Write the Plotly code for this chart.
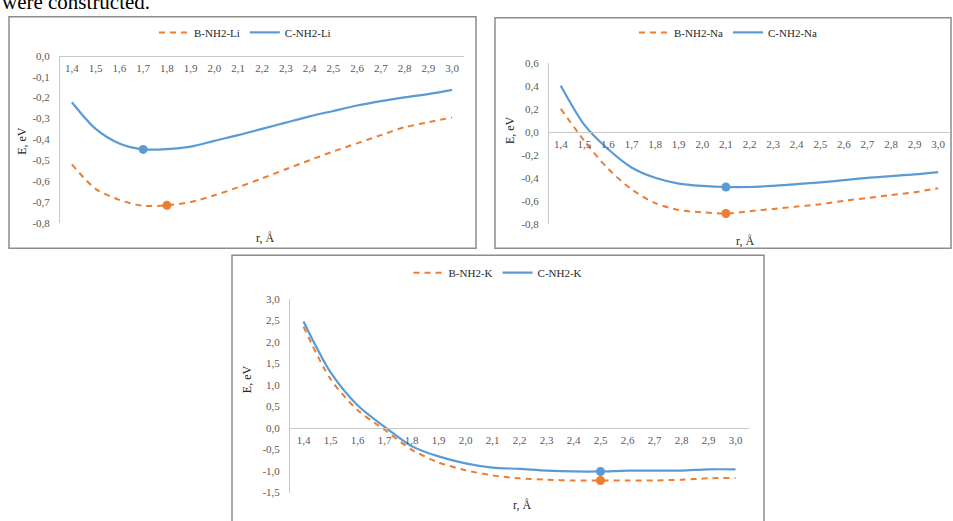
import plotly.graph_objects as go

# ---------------- data ----------------
r = [1.4, 1.5, 1.6, 1.7, 1.8, 1.9, 2.0, 2.1, 2.2, 2.3, 2.4, 2.5, 2.6, 2.7, 2.8, 2.9, 3.0]
r_labels = ['1,4', '1,5', '1,6', '1,7', '1,8', '1,9', '2,0', '2,1', '2,2', '2,3',
            '2,4', '2,5', '2,6', '2,7', '2,8', '2,9', '3,0']

li_b = [-0.52, -0.637, -0.69, -0.718, -0.716, -0.70, -0.668, -0.629, -0.587, -0.543,
        -0.50, -0.458, -0.419, -0.38, -0.342, -0.318, -0.295]
li_c = [-0.222, -0.35, -0.42, -0.448, -0.447, -0.435, -0.407, -0.38, -0.35, -0.32,
        -0.29, -0.264, -0.238, -0.217, -0.199, -0.183, -0.163]
na_b = [0.20, -0.08, -0.32, -0.50, -0.62, -0.68, -0.70, -0.71, -0.69, -0.67,
        -0.65, -0.63, -0.60, -0.575, -0.55, -0.525, -0.49]
na_c = [0.40, 0.06, -0.15, -0.31, -0.40, -0.45, -0.47, -0.48, -0.48, -0.47,
        -0.455, -0.44, -0.42, -0.40, -0.385, -0.37, -0.35]
k_b = [2.36, 1.14, 0.42, -0.04, -0.50, -0.80, -0.98, -1.10, -1.17, -1.20,
       -1.22, -1.22, -1.22, -1.22, -1.20, -1.17, -1.16]
k_c = [2.48, 1.30, 0.53, 0.03, -0.42, -0.66, -0.82, -0.92, -0.95, -0.99,
       -1.01, -1.01, -0.99, -0.99, -0.99, -0.96, -0.96]

# minimum points (r value of marked point)
li_b_min, li_c_min = 1.8, 1.7
na_b_min, na_c_min = 2.1, 2.1
k_b_min, k_c_min = 2.5, 2.5

li_yticks = [0.0, -0.1, -0.2, -0.3, -0.4, -0.5, -0.6, -0.7, -0.8]
li_ylabels = ['0,0', '-0,1', '-0,2', '-0,3', '-0,4', '-0,5', '-0,6', '-0,7', '-0,8']
na_yticks = [0.6, 0.4, 0.2, 0.0, -0.2, -0.4, -0.6, -0.8]
na_ylabels = ['0,6', '0,4', '0,2', '0,0', '-0,2', '-0,4', '-0,6', '-0,8']
k_yticks = [3.0, 2.5, 2.0, 1.5, 1.0, 0.5, 0.0, -0.5, -1.0, -1.5]
k_ylabels = ['3,0', '2,5', '2,0', '1,5', '1,0', '0,5', '0,0', '-0,5', '-1,0', '-1,5']

# ---------------- layout helpers ----------------
W, H = 953, 521
def px(x):
    return x / W
def py(y):
    return 1 - y / H

ORANGE = '#ED7D31'
BLUE = '#5B9BD5'
SERIF = '"Liberation Serif", "Times New Roman", serif'
AXC = '#c8c8c8'
TICKC = '#595959'

fig = go.Figure()

panels = [
    dict(sfx='', leg='legend', B=li_b, C=li_c, bmin=li_b_min, cmin=li_c_min,
         nb='B-NH2-Li', nc='C-NH2-Li'),
    dict(sfx='2', leg='legend2', B=na_b, C=na_c, bmin=na_b_min, cmin=na_c_min,
         nb='B-NH2-Na', nc='C-NH2-Na'),
    dict(sfx='3', leg='legend3', B=k_b, C=k_c, bmin=k_b_min, cmin=k_c_min,
         nb='B-NH2-K', nc='C-NH2-K'),
]

for p in panels:
    xa = 'x' + p['sfx']
    ya = 'y' + p['sfx']
    fig.add_trace(go.Scatter(x=r, y=p['B'], mode='lines', name=p['nb'],
                             line=dict(color=ORANGE, width=2, dash='6px,5px', shape='spline', smoothing=0.8),
                             xaxis=xa, yaxis=ya, legend=p['leg']))
    fig.add_trace(go.Scatter(x=r, y=p['C'], mode='lines', name=p['nc'],
                             line=dict(color=BLUE, width=2.2, shape='spline', smoothing=0.8),
                             xaxis=xa, yaxis=ya, legend=p['leg']))
    bi = r.index(p['bmin'])
    ci = r.index(p['cmin'])
    fig.add_trace(go.Scatter(x=[r[bi]], y=[p['B'][bi]], mode='markers', showlegend=False,
                             marker=dict(color=ORANGE, size=9), xaxis=xa, yaxis=ya))
    fig.add_trace(go.Scatter(x=[r[ci]], y=[p['C'][ci]], mode='markers', showlegend=False,
                             marker=dict(color=BLUE, size=9), xaxis=xa, yaxis=ya))

def zero_pos(ydom, yr):
    return ydom[0] + (0 - yr[0]) / (yr[1] - yr[0]) * (ydom[1] - ydom[0])

def xaxis_cfg(dom, ydom, yr):
    return dict(domain=dom, range=[1.35, 3.05], anchor='free', position=zero_pos(ydom, yr),
                tickvals=r, ticktext=r_labels, showline=True, linecolor=AXC, linewidth=1,
                showgrid=False, zeroline=False, ticks='outside', ticklen=2,
                tickcolor='rgba(0,0,0,0)', fixedrange=True,
                tickfont=dict(family=SERIF, size=11, color=TICKC))

def yaxis_cfg(dom, yr, tv, tt, anchor):
    return dict(domain=dom, range=yr, anchor=anchor, tickvals=tv, ticktext=tt,
                showline=True, linecolor=AXC, linewidth=1, showgrid=False, zeroline=False,
                ticks='outside', ticklen=7, tickcolor='rgba(0,0,0,0)', fixedrange=True,
                tickfont=dict(family=SERIF, size=11, color=TICKC))

y1d = [py(222), py(51)]; y1r = [-0.8, 0.0]
y2d = [py(223), py(58)]; y2r = [-0.8, 0.6]
y3d = [py(498), py(300)]; y3r = [-1.5, 3.0]

leg_common = dict(orientation='h', xanchor='center', yanchor='middle', bgcolor='rgba(0,0,0,0)',
                  font=dict(family=SERIF, size=11, color='#262626'), itemwidth=30,
                  traceorder='normal')

fig.update_layout(
    width=W, height=H, margin=dict(l=0, r=0, t=0, b=0),
    paper_bgcolor='white', plot_bgcolor='white',
    xaxis=xaxis_cfg([px(60), px(464)], y1d, y1r),
    yaxis=yaxis_cfg(y1d, y1r, li_yticks, li_ylabels, 'x'),
    xaxis2=xaxis_cfg([px(549), px(950)], y2d, y2r),
    yaxis2=yaxis_cfg(y2d, y2r, na_yticks, na_ylabels, 'x2'),
    xaxis3=xaxis_cfg([px(290), px(749)], y3d, y3r),
    yaxis3=yaxis_cfg(y3d, y3r, k_yticks, k_ylabels, 'x3'),
    legend=dict(x=px(245), y=py(27), **leg_common),
    legend2=dict(x=px(728), y=py(27), **leg_common),
    legend3=dict(x=px(498), y=py(273), **leg_common),
    showlegend=True,
)

# panel frames
frame = dict(type='rect', xref='paper', yref='paper', line=dict(color='#8c8c8c', width=1.5),
             fillcolor='rgba(0,0,0,0)', layer='below')
fig.add_shape(x0=px(9), x1=px(476), y0=py(248), y1=py(11), **frame)
fig.add_shape(x0=px(495), x1=px(951), y0=py(248), y1=py(12), **frame)
fig.add_shape(x0=px(232), x1=px(764), y0=py(530), y1=py(255), **frame)

ann = []
# document text (cut off at the top, as in the source page)
ann.append(dict(text='were constructed.', x=px(0), y=py(-4), xref='paper', yref='paper',
                xanchor='left', yanchor='middle', showarrow=False,
                font=dict(family=SERIF, size=21, color='black')))
# axis titles
for (tx, ty) in [(22, 138), (510, 127), (247, 382)]:
    ann.append(dict(text='E, eV', x=px(tx), y=py(ty), xref='paper', yref='paper',
                    xanchor='center', yanchor='middle', textangle=-90, showarrow=False,
                    font=dict(family=SERIF, size=12, color='#262626')))
for (tx, ty) in [(265, 237), (745, 241), (522, 511)]:
    ann.append(dict(text='r, Å', x=px(tx), y=py(ty), xref='paper', yref='paper',
                    xanchor='center', yanchor='middle', showarrow=False,
                    font=dict(family=SERIF, size=12, color='#262626')))
fig.update_layout(annotations=ann)

fig.write_html('out.html', config={'displayModeBar': False},
               post_script="document.body.style.margin='0';document.body.style.overflow='hidden';")
